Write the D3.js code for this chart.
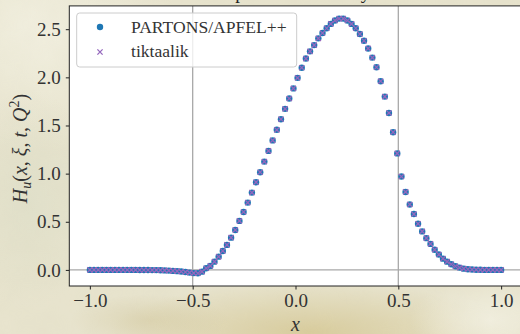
<!DOCTYPE html>
<html>
<head>
<meta charset="utf-8">
<script src="https://cdn.jsdelivr.net/npm/d3@7"></script>
<style>
  html, body { margin: 0; padding: 0; background: #e8e3cd; }
  svg { display: block; }
</style>
</head>
<body>
<svg id="chart" width="520" height="334"></svg>
<script>
// x grid of the GPD (100 points from -1 to 1)
const xGrid = [
  -1.0000, -0.9798, -0.9596, -0.9394, -0.9192, -0.8990, -0.8788, -0.8586, -0.8384, -0.8182,
  -0.7980, -0.7778, -0.7576, -0.7374, -0.7172, -0.6970, -0.6768, -0.6566, -0.6364, -0.6162,
  -0.5960, -0.5758, -0.5556, -0.5354, -0.5152, -0.4949, -0.4747, -0.4545, -0.4343, -0.4141,
  -0.3939, -0.3737, -0.3535, -0.3333, -0.3131, -0.2929, -0.2727, -0.2525, -0.2323, -0.2121,
  -0.1919, -0.1717, -0.1515, -0.1313, -0.1111, -0.0909, -0.0707, -0.0505, -0.0303, -0.0101,
   0.0101,  0.0303,  0.0505,  0.0707,  0.0909,  0.1111,  0.1313,  0.1515,  0.1717,  0.1919,
   0.2121,  0.2323,  0.2525,  0.2727,  0.2929,  0.3131,  0.3333,  0.3535,  0.3737,  0.3939,
   0.4141,  0.4343,  0.4545,  0.4747,  0.4949,  0.5152,  0.5354,  0.5556,  0.5758,  0.5960,
   0.6162,  0.6364,  0.6566,  0.6768,  0.6970,  0.7172,  0.7374,  0.7576,  0.7778,  0.7980,
   0.8182,  0.8384,  0.8586,  0.8788,  0.8990,  0.9192,  0.9394,  0.9596,  0.9798,  1.0000
];

// H_u(x, xi, t, Q^2)
const hPartons = [
   0.000,  0.000,  0.000,  0.000,  0.000,  0.000,  0.000,  0.000,  0.000,  0.000,
   0.000,  0.000, -0.001, -0.001, -0.001, -0.002, -0.002, -0.003, -0.005, -0.007,
  -0.010, -0.013, -0.017, -0.022, -0.028, -0.033, -0.035, -0.018,  0.018,  0.042,
   0.086,  0.138,  0.197,  0.260,  0.335,  0.415,  0.509,  0.602,  0.699,  0.803,
   0.911,  1.015,  1.125,  1.236,  1.345,  1.455,  1.565,  1.673,  1.780,  1.885,
   1.995,  2.100,  2.195,  2.270,  2.335,  2.405,  2.460,  2.510,  2.555,  2.590,
   2.610,  2.610,  2.590,  2.555,  2.510,  2.450,  2.380,  2.300,  2.205,  2.105,
   1.960,  1.800,  1.630,  1.430,  1.210,  0.970,  0.810,  0.680,  0.580,  0.480,
   0.400,  0.330,  0.270,  0.210,  0.160,  0.117,  0.086,  0.059,  0.038,  0.024,
   0.013,  0.007,  0.004,  0.002,  0.001,  0.000,  0.000,  0.000,  0.000,  0.000
];
// tiktaalik lies on top of PARTONS/APFEL++ in the figure
const hTiktaalik = hPartons.slice();

const xTicks = [-1.0, -0.5, 0.0, 0.5, 1.0];
const yTicks = [0.0, 0.5, 1.0, 1.5, 2.0, 2.5];
const xiLines = [-0.5, 0.5];
const seriesNames = ['PARTONS/APFEL++', 'tiktaalik'];

const blue = '#1f77b4', purple = '#9467bd';
const serif = '"Liberation Serif", "Times New Roman", serif';

const svg = d3.select('#chart');
const W = 520, H = 334;
const plot = { left: 69.3, right: 521.7, top: 5.9, bottom: 286 };

// --- parchment-ish background
const defs = svg.append('defs');
const blob = (id, color, op) => {
  const g = defs.append('radialGradient').attr('id', id);
  g.append('stop').attr('offset', '0%').attr('stop-color', color).attr('stop-opacity', op);
  g.append('stop').attr('offset', '100%').attr('stop-color', color).attr('stop-opacity', 0);
};
blob('bgTan', '#d3c48c', 0.75);
blob('bgTan2', '#d2c79c', 0.5);
blob('bgLight', '#f3f1e2', 0.9);
blob('bgGreen', '#dcdec8', 0.6);
const noise = defs.append('filter').attr('id', 'grain');
noise.append('feTurbulence').attr('type', 'fractalNoise').attr('baseFrequency', 0.035).attr('numOctaves', 3).attr('seed', 4);
noise.append('feColorMatrix').attr('type', 'matrix')
  .attr('values', '0 0 0 0 0.6  0 0 0 0 0.56  0 0 0 0 0.4  0 0 0 0.3 0');

svg.append('rect').attr('width', W).attr('height', H).attr('fill', '#e8e4ce');
svg.append('ellipse').attr('cx', 40).attr('cy', 30).attr('rx', 140).attr('ry', 120).attr('fill', 'url(#bgLight)');
svg.append('ellipse').attr('cx', 30).attr('cy', 200).attr('rx', 70).attr('ry', 110).attr('fill', 'url(#bgGreen)');
svg.append('ellipse').attr('cx', 310).attr('cy', 332).attr('rx', 200).attr('ry', 50).attr('fill', 'url(#bgTan)');
svg.append('ellipse').attr('cx', 150).attr('cy', 320).attr('rx', 80).attr('ry', 26).attr('fill', 'url(#bgTan2)');
svg.append('ellipse').attr('cx', 490).attr('cy', 320).attr('rx', 80).attr('ry', 40).attr('fill', 'url(#bgLight)');
svg.append('rect').attr('width', W).attr('height', H).attr('filter', 'url(#grain)').attr('opacity', 0.3);

// --- title (mostly above the visible window, as in the source figure)
svg.append('text')
  .attr('x', 198.3).attr('y', -1)
  .attr('font-family', serif).attr('font-size', 19).attr('fill', '#222')
  .text('Comparison: GPDs by code');

// --- scales
const x = d3.scaleLinear().domain([-1.1, 1.1]).range([plot.left, plot.right]);
const y = d3.scaleLinear().domain([-0.167, 2.742]).range([plot.bottom, plot.top]);

svg.append('rect')
  .attr('x', plot.left).attr('y', plot.top)
  .attr('width', plot.right - plot.left).attr('height', plot.bottom - plot.top)
  .attr('fill', '#ffffff');

const clip = defs.append('clipPath').attr('id', 'plotClip');
clip.append('rect')
  .attr('x', plot.left).attr('y', plot.top)
  .attr('width', plot.right - plot.left).attr('height', plot.bottom - plot.top);

const inner = svg.append('g').attr('clip-path', 'url(#plotClip)');

// reference lines at x = +-xi and H = 0
inner.selectAll('.xi')
  .data(xiLines)
  .enter()
  .append('line')
  .attr('x1', d => x(d)).attr('x2', d => x(d))
  .attr('y1', plot.top).attr('y2', plot.bottom)
  .attr('stroke', '#a8a8a8').attr('stroke-width', 1.3);
inner.append('line')
  .attr('x1', plot.left).attr('x2', plot.right)
  .attr('y1', y(0)).attr('y2', y(0))
  .attr('stroke', '#a8a8a8').attr('stroke-width', 1.3);

const ptsP = xGrid.map((v, i) => ({ x: v, h: hPartons[i] }));
const ptsT = xGrid.map((v, i) => ({ x: v, h: hTiktaalik[i] }));

// PARTONS/APFEL++ : filled circles
inner.selectAll('.dotP')
  .data(ptsP)
  .enter()
  .append('circle')
  .attr('cx', d => x(d.x))
  .attr('cy', d => y(d.h))
  .attr('r', 3.2)
  .attr('fill', blue);

// tiktaalik : crosses
const cross = 2.6;
const xPath = d => `M${x(d.x) - cross},${y(d.h) - cross}L${x(d.x) + cross},${y(d.h) + cross}` +
                   `M${x(d.x) - cross},${y(d.h) + cross}L${x(d.x) + cross},${y(d.h) - cross}`;
inner.selectAll('.crossT')
  .data(ptsT)
  .enter()
  .append('path')
  .attr('d', xPath)
  .attr('stroke', purple)
  .attr('stroke-width', 1.3)
  .attr('fill', 'none');

// --- axes
const fmt = v => (v < 0 ? '\u2212' : '') + Math.abs(v).toFixed(1);

const xAxis = svg.append('g')
  .attr('transform', `translate(0,${plot.bottom})`)
  .call(d3.axisBottom(x).tickValues(xTicks).tickFormat(fmt).tickSize(3.5).tickPadding(4));
const yAxis = svg.append('g')
  .attr('transform', `translate(${plot.left},0)`)
  .call(d3.axisLeft(y).tickValues(yTicks).tickFormat(fmt).tickSize(3.5).tickPadding(5));

[xAxis, yAxis].forEach(ax => {
  ax.select('.domain').remove();
  ax.selectAll('.tick line').attr('stroke', '#222').attr('stroke-width', 1);
  ax.selectAll('.tick text')
    .attr('font-family', serif)
    .attr('font-size', 19)
    .attr('fill', '#333');
});

// frame
svg.append('rect')
  .attr('x', plot.left).attr('y', plot.top)
  .attr('width', plot.right - plot.left).attr('height', plot.bottom - plot.top)
  .attr('fill', 'none').attr('stroke', '#222').attr('stroke-width', 1);

// axis labels
svg.append('text')
  .attr('x', (plot.left + plot.right) / 2).attr('y', 331)
  .attr('text-anchor', 'middle')
  .attr('font-family', serif).attr('font-size', 20).attr('font-style', 'italic')
  .attr('fill', '#333')
  .text('x');

const yl = svg.append('text')
  .attr('transform', 'translate(26.5,148.5) rotate(-90)')
  .attr('text-anchor', 'middle')
  .attr('font-family', serif).attr('font-size', 20)
  .attr('fill', '#333');
yl.append('tspan').attr('font-style', 'italic').text('H');
yl.append('tspan').attr('font-style', 'italic').attr('font-size', 14).attr('dy', 4).text('u');
yl.append('tspan').attr('dy', -4).text('(');
yl.append('tspan').attr('font-style', 'italic').text('x');
yl.append('tspan').text(', ');
yl.append('tspan').attr('font-style', 'italic').text('\u03BE');
yl.append('tspan').text(', ');
yl.append('tspan').attr('font-style', 'italic').text('t');
yl.append('tspan').text(', ');
yl.append('tspan').attr('font-style', 'italic').text('Q');
yl.append('tspan').attr('font-size', 14).attr('dy', -8).text('2');
yl.append('tspan').attr('dy', 8).text(')');

// --- legend
const legend = svg.append('g');
legend.append('rect')
  .attr('x', 76.7).attr('y', 13).attr('width', 220).attr('height', 54).attr('rx', 3)
  .attr('fill', '#ffffff').attr('fill-opacity', 0.8)
  .attr('stroke', '#cccccc').attr('stroke-width', 1);
legend.append('circle').attr('cx', 100).attr('cy', 27).attr('r', 3.2).attr('fill', blue);
legend.append('path')
  .attr('d', `M${100 - cross},${52 - cross}L${100 + cross},${52 + cross}M${100 - cross},${52 + cross}L${100 + cross},${52 - cross}`)
  .attr('stroke', purple).attr('stroke-width', 1.3);
legend.selectAll('.ltext')
  .data(seriesNames)
  .enter()
  .append('text')
  .attr('x', 131)
  .attr('y', (d, i) => 33.3 + i * 24)
  .attr('font-family', serif).attr('font-size', 17.6)
  .attr('fill', '#333')
  .text(d => d);
</script>
</body>
</html>
